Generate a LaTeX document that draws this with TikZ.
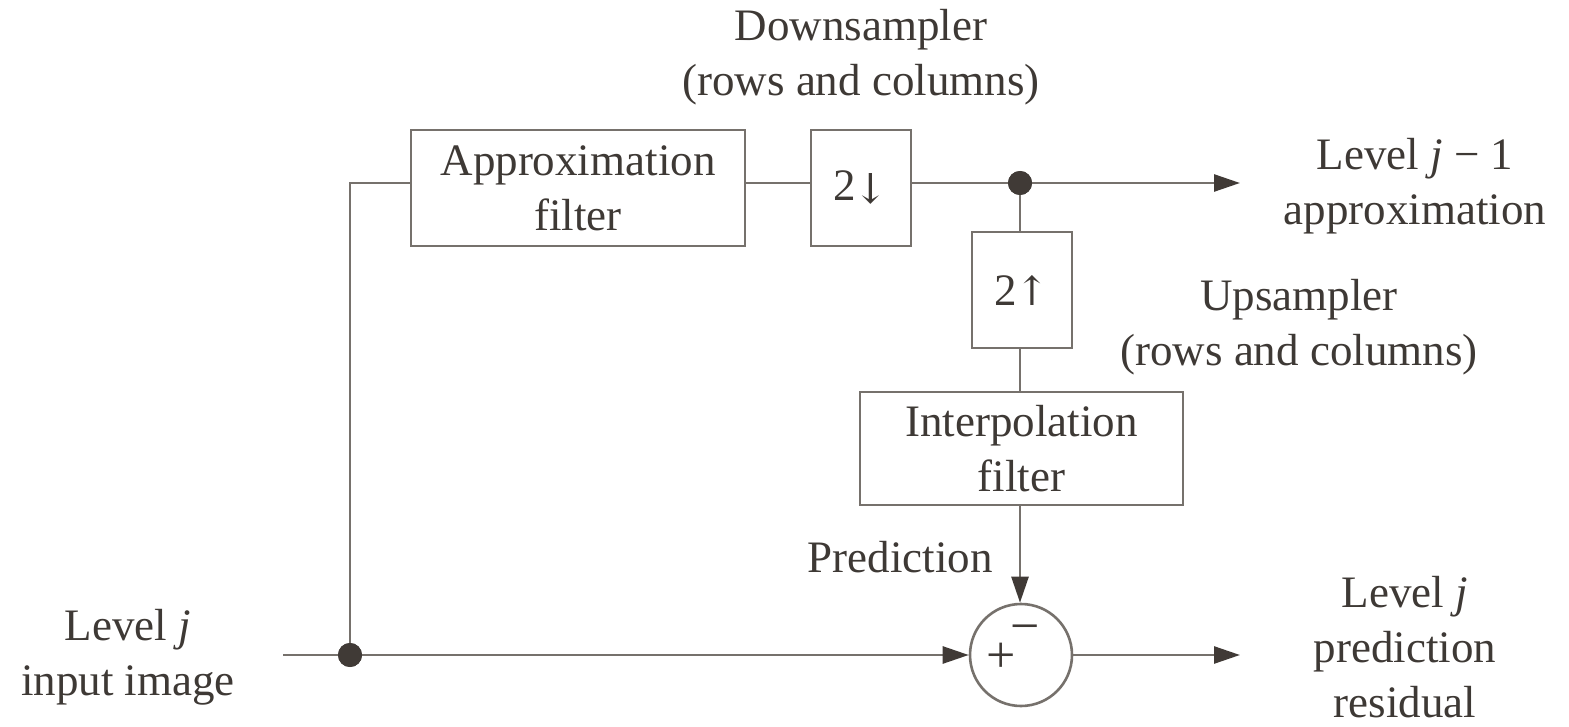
\documentclass[tikz,border=0pt]{standalone}
\usepackage{fontspec}
\setmainfont{Liberation Serif}
\newfontfamily\symf{DejaVu Serif}
\usetikzlibrary{arrows.meta}
\definecolor{ln}{RGB}{118,113,108}
\definecolor{tx}{RGB}{62,57,53}
\definecolor{dt}{RGB}{64,58,54}
\newcommand{\darr}{\raisebox{-3pt}{\resizebox{!}{30pt}{\symf ↓}}}
\newcommand{\uarr}{\raisebox{0pt}{\resizebox{!}{30pt}{\symf ↑}}}
\begin{document}
\begin{tikzpicture}[x=1pt,y=-1pt,
  every node/.style={text=tx,font=\fontsize{45}{55}\selectfont},
  blk/.style={draw=ln,line width=2.6pt,minimum width=#1,inner sep=0pt,align=center},
  wire/.style={draw=ln,line width=2.6pt},
  arr/.style={wire,-{Triangle[length=26pt,width=17pt,fill=dt,color=dt]}},
  dotn/.style={circle,fill=dt,minimum size=24pt,inner sep=0pt},
  lbl/.style={align=center,inner sep=0pt},
  sgn/.style={inner sep=0pt,anchor=base,font=\fontsize{52}{52}\selectfont}]
\useasboundingbox (0,0) rectangle (1569,727);
% blocks
\node[blk=334pt,minimum height=116pt] (af) at (578,188) {Approximation\\filter};
\node[blk=100pt,minimum height=116pt] (ds) at (861,188) {2\kern-2pt\darr};
\node[blk=100pt,minimum height=116pt] (us) at (1022,290) {2\kern-2pt\uarr};
\node[blk=323pt,minimum height=113pt] (ip) at (1021.5,448.5) {Interpolation\\filter};
\node[draw=ln,line width=2.6pt,circle,minimum size=102pt,inner sep=0pt] (sum) at (1021,655) {};
\node[sgn] (signs) at (1013,672) {+\kern-6pt\raisebox{29pt}{−}};
% junctions
\node[dotn] (d1) at (1020,183) {};
\node[dotn] (d2) at (350,655) {};
\coordinate (in) at (283,655);
\coordinate (outa) at (1240,183);
\coordinate (outr) at (1240,655);
% wires
\draw[wire] (d2.center) -- (350,183) -- (af.west |- 0,183);
\draw[wire] (af.east |- 0,183) -- (ds.west |- 0,183);
\draw[wire] (ds.east |- 0,183) -- (d1.center);
\draw[arr] (d1.center) -- (outa);
\draw[wire] (d1.center) -- (us.north -| d1.center);
\draw[wire] (us.south -| d1.center) -- (ip.north -| d1.center);
\draw[arr] (ip.south -| d1.center) -- (sum.north -| d1.center);
\draw[wire] (in) -- (d2.center);
\draw[arr] (d2.center) -- (sum.west);
\draw[arr] (sum.east) -- (outr);
\node[dotn] at (d1) {};
\node[dotn] at (d2) {};
% labels
\node[lbl] (l1) at (861,57) {Downsampler\\(rows and columns)};
\node[lbl] (l2) at (1415,186) {Level \textit{j} − 1\\approximation};
\node[lbl] (l3) at (1299,327) {Upsampler\\(rows and columns)};
\node[lbl] (l4) at (900,557) {Prediction};
\node[lbl] (l5) at (128,657) {Level \textit{j}\\input image};
\node[lbl] (l6) at (1405,647) {Level \textit{j}\\prediction\\residual};
\end{tikzpicture}
\end{document}
